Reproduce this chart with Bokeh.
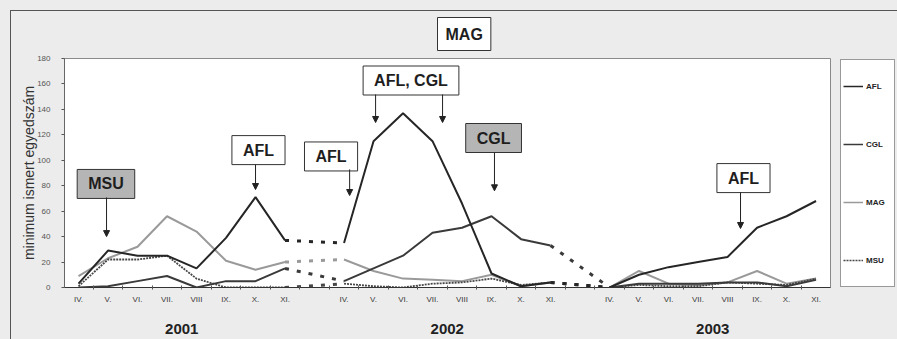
from bokeh.plotting import figure
from bokeh.layouts import row
from bokeh.models import (Range1d, FixedTicker, Label, Arrow, NormalHead,
                          Legend, LegendItem, LinearAxis, Title)
from bokeh.embed import file_html
from bokeh.resources import INLINE

# ---------------- data ----------------
months = ["IV.", "V.", "VI.", "VII.", "VIII", "IX.", "X.", "XI."]
years = ["2001", "2002", "2003"]
y_ticks = [0, 20, 40, 60, 80, 100, 120, 140, 160, 180]

# 8 months per year, years 2001, 2002, 2003
AFL = [3, 29, 25, 25, 15, 39, 71, 37,
       35, 115, 137, 115, 66, 11, 1, 4,
       0, 10, 16, 20, 24, 47, 56, 68]
CGL = [0, 1, 5, 9, 0, 5, 5, 15,
       5, 15, 25, 43, 47, 56, 38, 33,
       0, 3, 3, 3, 4, 4, 1, 6]
MAG = [9, 23, 32, 56, 44, 21, 14, 20,
       22, 13, 7, 6, 5, 10, 1, 4,
       0, 13, 3, 2, 4, 13, 3, 7]
MSU = [1, 22, 22, 25, 7, 0, 0, 0,
       3, 1, 0, 3, 4, 7, 2, 4,
       0, 2, 1, 1, 4, 3, 2, 7]

FONT = "Liberation Sans"
H = 339
SLOT = len(months) + 1  # one empty category between years

p = figure(width=836, height=H, output_backend="svg", toolbar_location=None,
           x_range=Range1d(-0.475, 25.49), y_range=Range1d(0, 180),
           min_border_left=64, min_border_right=6, min_border_top=58,
           min_border_bottom=52)
p.border_fill_alpha = 0
p.background_fill_color = "white"
p.outline_line_color = "#8a8a8a"
p.outline_line_width = 1
p.xgrid.visible = False
p.ygrid.visible = False

# title box "MAG"
p.title = Title(text="MAG", align="left", offset=373, text_font=FONT,
                text_font_size="16px", text_font_style="bold",
                text_color="#1e1e1e", background_fill_color="white",
                background_fill_alpha=1, border_line_color="#333",
                border_line_width=1, standoff=16,
                padding=dict(left=8, right=8, top=8, bottom=8))

# month axis
pos = [yi * SLOT + mi for yi in range(len(years)) for mi in range(len(months))]
labels = {yi * SLOT + mi: m for yi in range(len(years)) for mi, m in enumerate(months)}
minor = [k - 0.5 for k in range(0, 27)]
xa = p.xaxis[0]
xa.ticker = FixedTicker(ticks=pos, minor_ticks=minor)
xa.major_label_overrides = labels
xa.major_tick_line_color = None
xa.major_tick_in = 0
xa.major_tick_out = 0
xa.minor_tick_in = 2
xa.minor_tick_out = 2
xa.minor_tick_line_color = "#555"
xa.axis_line_color = "#333"
xa.major_label_text_font = FONT
xa.major_label_text_font_size = "8px"
xa.major_label_text_color = "#3a3a3a"
xa.major_label_standoff = 5

# year axis (second row of labels)
year_pos = [yi * SLOT + (len(months) - 1) / 2 for yi in range(len(years))]
ya2 = LinearAxis(ticker=FixedTicker(ticks=year_pos, minor_ticks=[]),
                 major_label_overrides={v: yr for v, yr in zip(year_pos, years)},
                 axis_line_color=None, major_tick_line_color=None,
                 minor_tick_line_color=None, major_tick_in=0, major_tick_out=0,
                 major_label_standoff=17, major_label_text_font=FONT,
                 major_label_text_font_size="15px",
                 major_label_text_font_style="bold",
                 major_label_text_color="#222")
p.add_layout(ya2, "below")

# y axis
yax = p.yaxis[0]
yax.ticker = FixedTicker(ticks=y_ticks)
yax.minor_tick_line_color = None
yax.major_tick_out = 3
yax.major_tick_in = 0
yax.major_tick_line_color = "#555"
yax.axis_line_color = "#666"
yax.major_label_text_font = FONT
yax.major_label_text_font_size = "8px"
yax.major_label_text_color = "#555"
yax.major_label_standoff = 11
yax.axis_label = "minimum ismert egyedszám"
yax.axis_label_text_font = FONT
yax.axis_label_text_font_size = "14px"
yax.axis_label_text_font_style = "normal"
yax.axis_label_text_color = "#333"
yax.axis_label_standoff = -3

styles = {
    "MAG": dict(color="#9a9a9a", width=2.0, dash="solid"),
    "MSU": dict(color="#474747", width=1.8, dash="2 1"),
    "CGL": dict(color="#3a3a3a", width=2.0, dash="solid"),
    "AFL": dict(color="#262626", width=2.0, dash="solid"),
}
series = {"MAG": MAG, "MSU": MSU, "CGL": CGL, "AFL": AFL}
for name, vals in series.items():
    st = styles[name]
    n = len(months)
    for yi in range(len(years)):
        xs = [yi * SLOT + mi for mi in range(n)]
        ys = vals[yi * n:(yi + 1) * n]
        p.line(xs, ys, line_color=st["color"], line_width=st["width"],
               line_dash=st["dash"])
        if yi < len(years) - 1:
            p.line([xs[-1], (yi + 1) * SLOT], [ys[-1], vals[(yi + 1) * n]],
                   line_color=st["color"], line_width=3, line_dash="4 8")


def box(x, y, text, fill="white", size="16px", px=11, py=6):
    p.add_layout(Label(x=x, y=y, text=text, text_align="center",
                       text_baseline="middle", text_font=FONT,
                       text_font_size=size, text_font_style="bold",
                       text_color="#1e1e1e", background_fill_color=fill,
                       background_fill_alpha=1, border_line_color="#333",
                       border_line_width=1,
                       padding=dict(left=px, right=px, top=py, bottom=py)))


def arrow(x, y0, y1):
    p.add_layout(Arrow(end=NormalHead(size=6, fill_color="#222", line_color="#222"),
                       x_start=x, y_start=y0, x_end=x, y_end=y1,
                       line_color="#222", line_width=1))


box(0.93, 81.4, "MSU", fill="#b5b5b5")
arrow(0.95, 70.8, 40)
box(6.1, 108, "AFL")
arrow(6.0, 96.7, 77)
box(8.56, 103, "AFL")
arrow(9.19, 92.8, 72.3)
box(11.27, 162.7, "AFL, CGL")
arrow(10.07, 151.7, 129.7)
arrow(12.34, 151.7, 129.7)
box(14.07, 117.5, "CGL", fill="#b5b5b5")
arrow(14.1, 106, 76)
box(22.54, 86, "AFL")
arrow(22.44, 74.7, 46.4)

# ---------------- legend panel ----------------
p2 = figure(width=61, height=H, output_backend="svg", toolbar_location=None,
            x_range=Range1d(0, 1), y_range=Range1d(0, 1),
            x_axis_location=None, y_axis_location=None,
            min_border_left=3, min_border_right=0, min_border_top=58,
            min_border_bottom=52)
p2.border_fill_alpha = 0
p2.background_fill_alpha = 0
p2.outline_line_color = None
p2.grid.visible = False
keys = {}
for name in ["AFL", "CGL", "MAG", "MSU"]:
    st = styles[name]
    # legend keys only: placed outside the visible range
    keys[name] = p2.line(x=[-2, -1], y=[-2, -1], line_color=st["color"],
                         line_width=1.5, line_dash=st["dash"])
legend = Legend(items=[LegendItem(label=k, renderers=[keys[k]])
                       for k in ["AFL", "CGL", "MAG", "MSU"]],
                location="top_left", orientation="vertical",
                label_height=48, glyph_height=20, glyph_width=20,
                label_width=26, label_standoff=3, padding=2, spacing=10,
                margin=1, border_line_color="#333", border_line_width=1,
                background_fill_color="white", background_fill_alpha=1,
                label_text_font=FONT, label_text_font_size="8px",
                label_text_font_style="bold", label_text_color="#222")
p2.add_layout(legend, "center")

layout = row(p, p2, spacing=0)
layout.styles = {
    "background": ("linear-gradient(#555, #555) 10px 10px / 100% 1px no-repeat, "
                   "linear-gradient(#555, #555) 10px 10px / 1px 100% no-repeat, "
                   "#ececec"),
}

open("out.html", "w").write(file_html(layout, INLINE))
